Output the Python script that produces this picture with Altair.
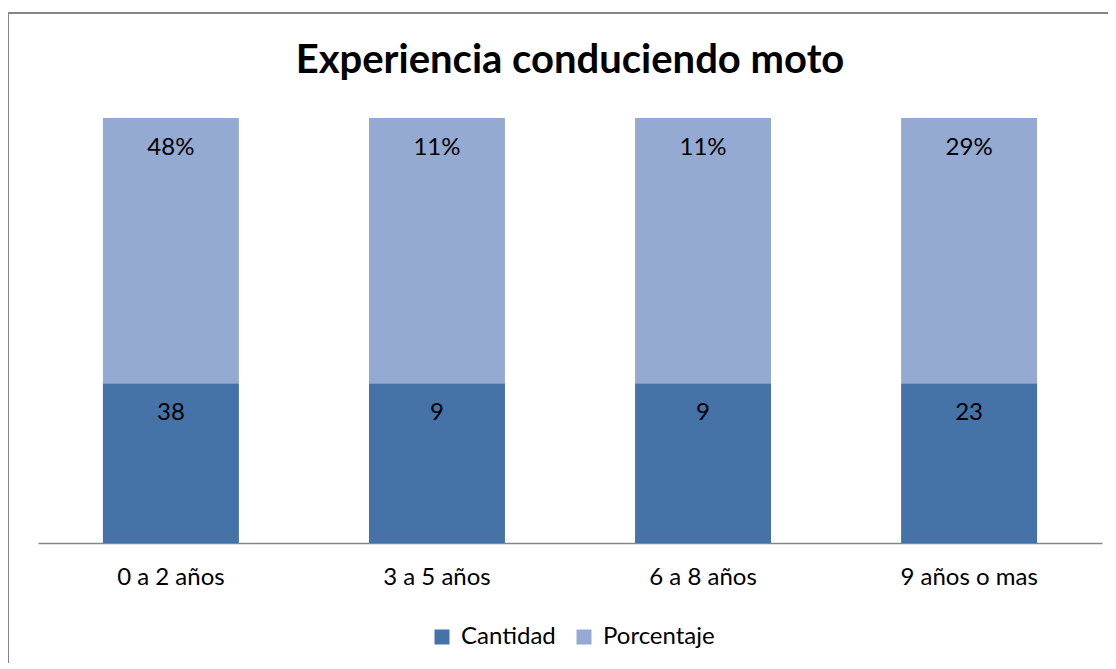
import altair as alt
import pandas as pd

categorias = ["0 a 2 años", "3 a 5 años", "6 a 8 años", "9 años o mas"]
cantidad = [38, 9, 9, 23]
porcentaje = [48, 11, 11, 29]
series = ["Cantidad", "Porcentaje"]
colores = ["#4572A7", "#95AAD2"]
titulo = "Experiencia conduciendo moto"

# visual band of each stacked segment (fraction of plot height)
bandas = {"Cantidad": (0.0, 0.376), "Porcentaje": (0.376, 1.0)}

rows = []
for c, q, p in zip(categorias, cantidad, porcentaje):
    for s, lab in (("Cantidad", f"{q}"), ("Porcentaje", f"{p}%")):
        y0, y1 = bandas[s]
        rows.append({"cat": c, "serie": s, "etiqueta": lab, "y0": y0, "y1": y1})
df = pd.DataFrame(rows)

FONT = "Lato"
FS = 24

x = alt.X("cat:N", sort=categorias, title=None,
          scale=alt.Scale(paddingInner=0.489, paddingOuter=0.244),
          axis=alt.Axis(labelAngle=0, labelFontSize=FS, labelFont=FONT, labelColor="#000000",
                        ticks=False, domainColor="#868686", domainWidth=1.5, labelPadding=22))
yscale = alt.Scale(domain=[0, 1])

bars = alt.Chart(df).mark_bar().encode(
    x=x,
    y=alt.Y("y0:Q", scale=yscale, axis=None),
    y2="y1:Q",
    color=alt.Color("serie:N", sort=series,
                    scale=alt.Scale(domain=series, range=colores),
                    legend=alt.Legend(title=None, orient="none", direction="horizontal",
                                      legendX=392, legendY=507,
                                      labelFontSize=FS, labelFont=FONT, labelColor="#000000",
                                      symbolType="square", symbolSize=225, symbolStrokeWidth=0,
                                      labelOffset=7, columnPadding=16)),
)

labels = alt.Chart(df).mark_text(fontSize=FS, font=FONT, color="#000000", dy=30).encode(
    x=alt.X("cat:N", sort=categorias),
    y=alt.Y("y1:Q", scale=yscale),
    text="etiqueta:N",
)

title = alt.Chart(pd.DataFrame({"t": [titulo]})).mark_text(
    fontSize=40, font=FONT, fontWeight="bold", color="#000000", baseline="middle"
).encode(x=alt.value(532), y=alt.value(-57), text="t:N")

border_top = alt.Chart(df).mark_rule(color="#868686", strokeWidth=1.5).encode(
    x=alt.value(-30), x2=alt.value(1100), y=alt.value(-105))
border_left = alt.Chart(df).mark_rule(color="#868686", strokeWidth=1.5).encode(
    x=alt.value(-30), y=alt.value(-105), y2=alt.value(560))

chart = alt.layer(bars, labels, title, border_top, border_left).properties(
    width=1064, height=425,
    autosize=alt.AutoSizeParams(type="none"),
    padding={"left": 30, "top": 110, "right": 6, "bottom": 120},
).configure_view(stroke=None)

chart.save("out.html", embed_options={"renderer": "svg", "actions": False})
